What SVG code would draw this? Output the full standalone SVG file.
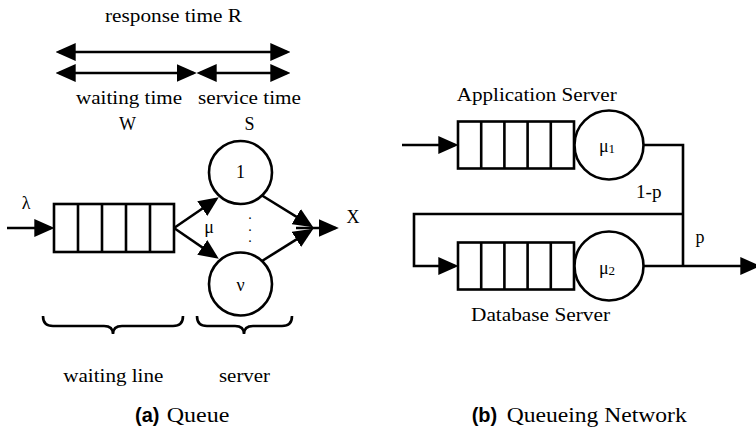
<svg xmlns="http://www.w3.org/2000/svg" width="756" height="431" viewBox="0 0 756 431">
  <style>
    .ln { fill: none; stroke: #000; stroke-width: 2.6; }
    .box { fill: #fff; stroke: #000; stroke-width: 2.6; }
    .t { font-family: "Liberation Serif", "Times New Roman", serif; font-size: 18px; fill: #000; }
    .dot { font-family: "Liberation Serif", "Times New Roman", serif; font-size: 10px; font-weight: bold; fill: #000; }
    .cap { font-family: "Liberation Serif", "Times New Roman", serif; font-size: 20px; fill: #000; }
    .capb { font-family: "Liberation Sans", Arial, sans-serif; font-size: 20px; font-weight: bold; fill: #000; }
    .arr { marker-end: url(#head); }
    .dbl { marker-start: url(#head); marker-end: url(#head); }
  </style>
  <defs>
    <marker id="head" markerUnits="userSpaceOnUse" markerWidth="20" markerHeight="18" viewBox="0 0 18 16" refX="15" refY="8" orient="auto-start-reverse">
      <path d="M0,0 L18,8 L0,16 Z" fill="#000"/>
    </marker>
  </defs>

  <!-- (a) timing annotations -->
  <g id="timing">
    <text class="t" x="105" y="22" textLength="137" lengthAdjust="spacingAndGlyphs">response time R</text>
    <line class="ln dbl" x1="59" y1="52" x2="287" y2="52"/>
    <line class="ln dbl" x1="59" y1="73" x2="193.5" y2="73"/>
    <line class="ln dbl" x1="200" y1="73" x2="287" y2="73"/>
    <text class="t" x="76" y="104" textLength="106" lengthAdjust="spacingAndGlyphs">waiting time</text>
    <text class="t" x="198" y="104" textLength="103" lengthAdjust="spacingAndGlyphs">service time</text>
    <text class="t" x="127.5" y="130" text-anchor="middle">W</text>
    <text class="t" x="249.5" y="130" text-anchor="middle">S</text>
  </g>

  <!-- (a) single queue -->
  <g id="queue-a">
    <rect class="box" x="54" y="204" width="120" height="48"/>
    <path class="ln" d="M78,204 V252 M102,204 V252 M126,204 V252 M150,204 V252"/>
  </g>
  <g id="server-1">
    <circle class="box" cx="240.5" cy="172.5" r="31.5"/>
    <text class="t" x="240.5" y="178" text-anchor="middle">1</text>
  </g>
  <g id="server-v">
    <circle class="box" cx="240.5" cy="284" r="31.5"/>
    <text class="t" x="240.5" y="291" text-anchor="middle">ν</text>
  </g>

  <!-- (b) queueing network -->
  <g id="queue-app">
    <rect class="box" x="458" y="121.5" width="116" height="47"/>
    <path class="ln" d="M481.2,121.5 V168.5 M504.4,121.5 V168.5 M527.6,121.5 V168.5 M550.8,121.5 V168.5"/>
  </g>
  <g id="server-app">
    <circle class="box" cx="609" cy="145" r="34.5"/>
    <text class="t" x="607" y="152" text-anchor="middle">μ<tspan font-size="13" dy="1">1</tspan></text>
  </g>
  <g id="queue-db">
    <rect class="box" x="458" y="242.5" width="116" height="47"/>
    <path class="ln" d="M481.2,242.5 V289.5 M504.4,242.5 V289.5 M527.6,242.5 V289.5 M550.8,242.5 V289.5"/>
  </g>
  <g id="server-db">
    <circle class="box" cx="609" cy="266" r="34.5"/>
    <text class="t" x="607" y="274" text-anchor="middle">μ<tspan font-size="13" dy="1">2</tspan></text>
  </g>

  <!-- connectors -->
  <g id="connectors">
    <line class="ln arr" x1="7" y1="228" x2="51" y2="228"/>
    <line class="ln arr" x1="174" y1="228" x2="216" y2="199.2"/>
    <line class="ln arr" x1="174" y1="228" x2="216" y2="256.8"/>
    <line class="ln arr" x1="262" y1="195.5" x2="310.4" y2="225.4"/>
    <line class="ln arr" x1="262" y1="261" x2="310.5" y2="230.6"/>
    <line class="ln arr" x1="296" y1="228" x2="335.5" y2="228"/>

    <line class="ln arr" x1="402" y1="145" x2="455" y2="145"/>
    <polyline class="ln" points="643.5,145 683,145 683,266"/>
    <polyline class="ln arr" points="683,214 414,214 414,266 455,266"/>
    <line class="ln arr" x1="643.5" y1="266" x2="757" y2="266"/>
  </g>

  <!-- labels -->
  <g id="labels">
    <text class="t" x="26" y="209" text-anchor="middle">λ</text>
    <text class="t" x="209" y="233" text-anchor="middle">μ</text>
    <!-- vertical ellipsis between the servers -->
    <text class="dot" text-anchor="middle"><tspan x="250" y="218.5">.</tspan><tspan x="250" y="230.5">.</tspan><tspan x="250" y="242">.</tspan></text>
    <text class="t" x="353" y="223" text-anchor="middle">X</text>
    <text class="t" x="456.7" y="101" textLength="160" lengthAdjust="spacingAndGlyphs">Application Server</text>
    <text class="t" x="636" y="198" textLength="25.5" lengthAdjust="spacingAndGlyphs">1-p</text>
    <text class="t" x="700" y="243" text-anchor="middle">p</text>
    <text class="t" x="471" y="321" textLength="139" lengthAdjust="spacingAndGlyphs">Database Server</text>
  </g>

  <!-- braces -->
  <g id="braces">
    <path class="ln" d="M43,316 Q43,326 53,326 H104 Q113,326 113,334 Q113,326 122,326 H173 Q183,326 183,316"/>
    <path class="ln" d="M197,316 Q197,326 207,326 H235 Q244,326 244,334 Q244,326 253,326 H282 Q292,326 292,316"/>
    <text class="t" x="63.3" y="382" textLength="100" lengthAdjust="spacingAndGlyphs">waiting line</text>
    <text class="t" x="219" y="382" textLength="51" lengthAdjust="spacingAndGlyphs">server</text>
  </g>

  <!-- captions -->
  <g id="captions">
    <text class="capb" x="135" y="422">(a)</text>
    <text class="cap" x="166.7" y="422" textLength="62.6" lengthAdjust="spacingAndGlyphs">Queue</text>
    <text class="capb" x="471.7" y="422">(b)</text>
    <text class="cap" x="506.7" y="422" textLength="180" lengthAdjust="spacingAndGlyphs">Queueing Network</text>
  </g>
</svg>
